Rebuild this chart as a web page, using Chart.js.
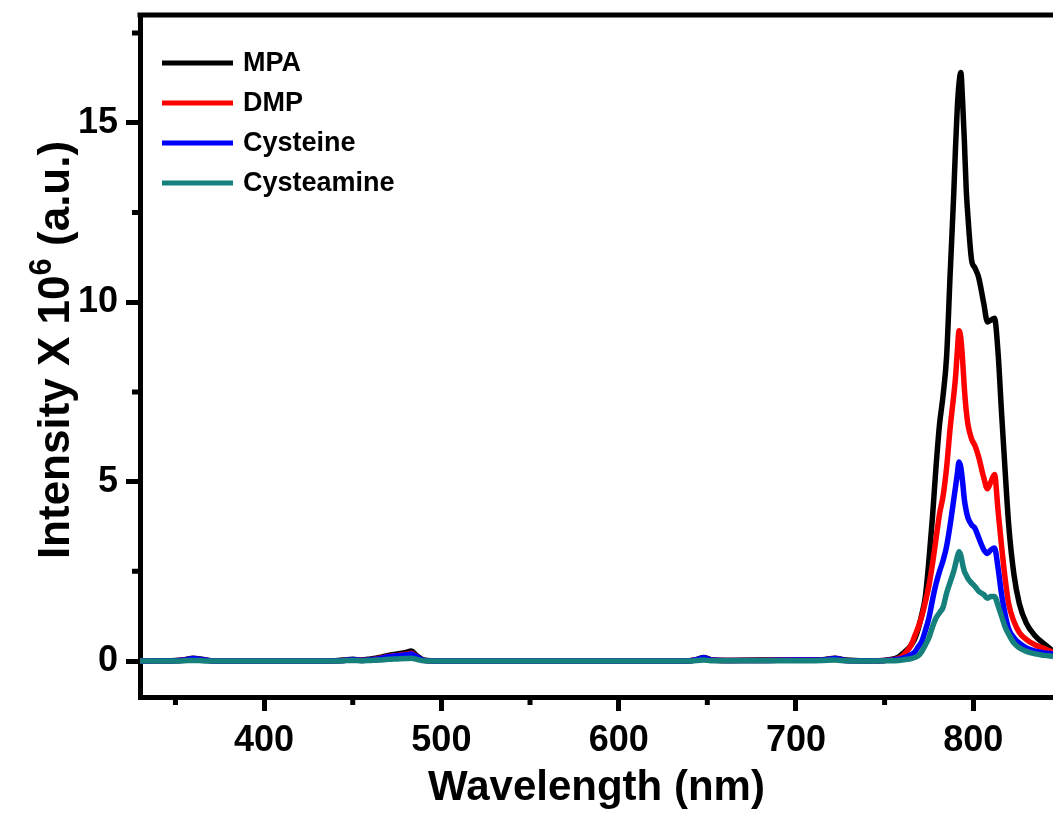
<!DOCTYPE html>
<html>
<head>
<meta charset="utf-8">
<title>PL spectra</title>
<script src="https://cdn.jsdelivr.net/npm/chart.js@4"></script>
<style>
  html, body { margin: 0; padding: 0; background: #fff; overflow: hidden; }
  canvas { display: block; }
</style>
</head>
<body>
<canvas id="spectra" width="1053" height="814"></canvas>
<script>
// ---------------------------------------------------------------------------
//  Emission spectra, four capping ligands
// ---------------------------------------------------------------------------

const wavelength = [
  330, 340, 350, 355, 360, 365, 370, 380, 400, 420,
  440, 445, 450, 455, 460, 465, 470, 475, 480, 483,
  486, 490, 500, 520, 540, 560, 580, 600, 620, 640,
  644, 648, 652, 660, 680, 700, 715, 722, 728, 740,
  750,
  755, 758, 760, 763, 765, 767, 769, 771, 773, 775,
  777, 779, 781, 783, 785, 787, 789, 790, 791, 792,
  793, 794, 795, 796, 797, 799, 801, 803, 806, 808,
  810, 812, 814, 816, 818, 820, 823, 826, 830, 835,
  840, 845
];

const mpa = [
  0, 0.01, 0.02, 0.04, 0.08, 0.05, 0.01, 0, 0, 0,
  0.01, 0.03, 0.05, 0.03, 0.06, 0.1, 0.16, 0.2, 0.24, 0.28,
  0.16, 0.03, 0, 0, 0, 0, 0, 0, 0, 0.01,
  0.05, 0.1, 0.04, 0.02, 0.03, 0.03, 0.04, 0.08, 0.03, 0.01,
  0.02,
  0.06, 0.12, 0.2, 0.33, 0.45, 0.62, 0.9, 1.3, 1.8, 2.8,
  4.0, 5.4, 6.6, 7.4, 8.5, 10.8, 13.0, 14.3, 15.4, 16.1,
  16.4, 15.6, 14.5, 13.2, 12.4, 11.2, 10.95, 10.7, 9.95, 9.45,
  9.5, 9.55, 8.6, 6.9, 5.3, 3.8, 2.4, 1.6, 1.05, 0.7,
  0.48, 0.28
];

const dmp = [
  0, 0.01, 0.01, 0.03, 0.06, 0.04, 0.01, 0, 0, 0,
  0.01, 0.02, 0.04, 0.02, 0.04, 0.08, 0.13, 0.16, 0.19, 0.22,
  0.13, 0.02, 0, 0, 0, 0, 0, 0, 0, 0.01,
  0.04, 0.08, 0.03, 0.02, 0.02, 0.03, 0.03, 0.07, 0.02, 0.01,
  0.02,
  0.04, 0.08, 0.14, 0.3, 0.45, 0.7, 0.95, 1.25, 1.65, 2.1,
  2.7, 3.4, 4.1, 4.6, 5.4, 6.5, 7.4, 7.9, 8.6, 9.2,
  9.0, 8.4, 7.6, 7.0, 6.6, 6.2, 6.0, 5.7, 5.1, 4.8,
  5.0, 5.2, 4.2, 3.2, 2.3, 1.6, 1.1, 0.8, 0.6, 0.45,
  0.35, 0.25
];

const cysteine = [
  0, 0.01, 0.01, 0.03, 0.07, 0.04, 0.01, 0, 0, 0,
  0.01, 0.02, 0.04, 0.02, 0.04, 0.07, 0.12, 0.15, 0.18, 0.2,
  0.12, 0.02, 0, 0, 0, 0, 0, 0, 0, 0.01,
  0.04, 0.09, 0.03, 0.02, 0.02, 0.03, 0.03, 0.07, 0.02, 0.01,
  0.02,
  0.03, 0.05, 0.08, 0.13, 0.18, 0.25, 0.4, 0.55, 0.85, 1.2,
  1.7, 2.15, 2.5, 2.8, 3.2, 3.8, 4.5, 4.85, 5.2, 5.55,
  5.4, 5.0, 4.5, 4.2, 4.0, 3.8, 3.7, 3.45, 3.1, 3.0,
  3.1, 3.15, 2.6, 1.85, 1.3, 0.9, 0.65, 0.5, 0.37, 0.28,
  0.23, 0.2
];

const cysteamine = [
  0, 0, 0, 0.01, 0.02, 0.01, 0, 0, 0, 0,
  0, 0.01, 0.02, 0.01, 0.02, 0.03, 0.05, 0.06, 0.07, 0.08,
  0.05, 0.01, 0, 0, 0, 0, 0, 0, 0, 0,
  0.02, 0.03, 0.01, 0.01, 0.01, 0.01, 0.02, 0.03, 0.01, 0,
  0.01,
  0.01, 0.02, 0.03, 0.05, 0.07, 0.1, 0.15, 0.27, 0.45, 0.65,
  0.95, 1.2, 1.35, 1.5, 1.9, 2.2, 2.5, 2.7, 2.9, 3.05,
  2.95, 2.7, 2.5, 2.4, 2.3, 2.18, 2.08, 1.95, 1.85, 1.75,
  1.8, 1.8, 1.55, 1.25, 0.95, 0.75, 0.5, 0.37, 0.27, 0.2,
  0.16, 0.13
];

const seriesNames = ["MPA", "DMP", "Cysteine", "Cysteamine"];
const seriesColors = ["#000000", "#ff0000", "#0000ff", "#15807c"];

const xTicks = [400, 500, 600, 700, 800];
const xMinorTicks = [350, 450, 550, 650, 750];
const yTicks = [0, 5, 10, 15];
const yMinorTicks = [2.5, 7.5, 12.5, 17.5];

const FONT = "'Liberation Sans', Arial, sans-serif";

// ----------------------------- helpers --------------------------------------
const toPoints = (ys) => wavelength.map((x, i) => ({ x, y: ys[i] }));

// frame top edge, minor ticks, rotated y title with superscript, legend
const decorPlugin = {
  id: "decor",
  afterDraw(chart) {
    const { ctx, chartArea: a, scales } = chart;
    ctx.save();
    ctx.strokeStyle = "#000";
    ctx.lineWidth = 5;

    ctx.beginPath();
    ctx.moveTo(a.left - 2.5, a.top);
    ctx.lineTo(a.right, a.top);
    ctx.stroke();

    ctx.beginPath();
    xMinorTicks.forEach((v) => {
      const px = scales.x.getPixelForValue(v);
      ctx.moveTo(px, a.bottom);
      ctx.lineTo(px, a.bottom + 8);
    });
    yMinorTicks.forEach((v) => {
      const py = scales.y.getPixelForValue(v);
      ctx.moveTo(a.left, py);
      ctx.lineTo(a.left - 8, py);
    });
    ctx.stroke();

    // y axis title
    ctx.fillStyle = "#000";
    ctx.textBaseline = "alphabetic";
    const big = `bold 44px ${FONT}`;
    const small = `bold 31px ${FONT}`;
    const partA = "Intensity X 10";
    const partB = "6";
    const partC = " (a.u.)";
    ctx.font = big;
    const wA = ctx.measureText(partA).width;
    const wC = ctx.measureText(partC).width;
    ctx.font = small;
    const wB = ctx.measureText(partB).width;
    const total = wA + wB + wC;
    ctx.translate(69, (a.top + a.bottom) / 2 - 6);
    ctx.rotate(-Math.PI / 2);
    let cx = -total / 2;
    ctx.font = big;
    ctx.fillText(partA, cx, 0);
    cx += wA;
    ctx.font = small;
    ctx.fillText(partB, cx, -18);
    cx += wB;
    ctx.font = big;
    ctx.fillText(partC, cx, 0);
    ctx.setTransform(1, 0, 0, 1, 0, 0);

    // legend
    ctx.font = `bold 27px ${FONT}`;
    ctx.textBaseline = "middle";
    ctx.lineWidth = 5;
    chart.data.datasets.forEach((ds, i) => {
      const ly = a.top + 48 + i * 40;
      ctx.strokeStyle = ds.borderColor;
      ctx.beginPath();
      ctx.moveTo(a.left + 22, ly);
      ctx.lineTo(a.left + 93, ly);
      ctx.stroke();
      ctx.fillText(ds.label, a.left + 103, ly + 1);
    });
    ctx.restore();
  },
};

// ----------------------------- chart ----------------------------------------
const datasets = [mpa, dmp, cysteine, cysteamine].map((ys, i) => ({
  label: seriesNames[i],
  data: toPoints(ys),
  borderColor: seriesColors[i],
  borderWidth: 5.5,
  pointRadius: 0,
  cubicInterpolationMode: "monotone",
  fill: false,
  order: 4 - i, // later series painted on top
}));

new Chart(document.getElementById("spectra"), {
  type: "line",
  data: { datasets },
  options: {
    responsive: false,
    animation: false,
    layout: { padding: { top: 15, right: 0, left: 0, bottom: 0 } },
    plugins: { legend: { display: false }, tooltip: { enabled: false } },
    scales: {
      x: {
        type: "linear",
        min: 330,
        max: 845,
        afterBuildTicks: (s) => { s.ticks = xTicks.map((v) => ({ value: v })); },
        afterFit: (s) => { s.height = 117; s.paddingLeft = 0; s.paddingRight = 0; },
        grid: { drawOnChartArea: false, drawTicks: true, tickLength: 14, tickWidth: 5, color: "#000" },
        border: { display: true, width: 5, color: "#000" },
        ticks: { color: "#000", padding: 8, font: { family: FONT, size: 36, weight: "bold" } },
        title: {
          display: true,
          text: "Wavelength (nm)",
          color: "#000",
          padding: { top: 0, bottom: 0 },
          font: { family: FONT, size: 42, weight: "bold" },
        },
      },
      y: {
        type: "linear",
        min: -1,
        max: 18,
        afterBuildTicks: (s) => { s.ticks = yTicks.map((v) => ({ value: v })); },
        afterFit: (s) => { s.width = 140; s.paddingTop = 0; s.paddingBottom = 0; },
        grid: { drawOnChartArea: false, drawTicks: true, tickLength: 14, tickWidth: 5, color: "#000" },
        border: { display: true, width: 5, color: "#000" },
        ticks: { color: "#000", padding: 8, font: { family: FONT, size: 36, weight: "bold" } },
      },
    },
  },
  plugins: [decorPlugin],
});
</script>
</body>
</html>
